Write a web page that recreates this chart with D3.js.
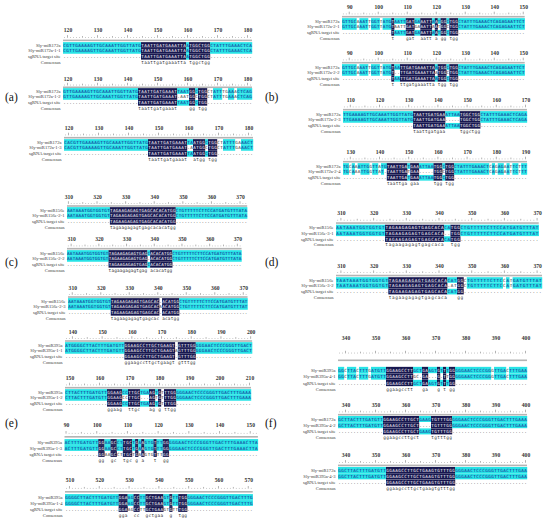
<!DOCTYPE html>
<html><head><meta charset="utf-8">
<script src="https://cdn.jsdelivr.net/npm/d3@7"></script>
<style>html,body{margin:0;padding:0;background:#fff;}svg{display:block}</style>
</head><body><svg id="c" width="550" height="521"></svg>
<script>
// ---------------- DATA ----------------
const panelLabels = ["(a)","(b)","(c)","(d)","(e)","(f)"];
const rowTitles = ["sgRNA target site","Consensus"];
const refNames = ["Sly-miR172a","Sly-miR172a","Sly-miR172a","Sly-miR172a","Sly-miR172a","Sly-miR172a","Sly-miR172a",
  "Sly-miR156e","Sly-miR156e","Sly-miR156e","Sly-miR156e","Sly-miR156e",
  "Sly-miR395a","Sly-miR395a","Sly-miR395a","Sly-miR395a","Sly-miR395a","Sly-miR172a","Sly-miR172a"];
const mutNames = ["Sly-miR172a-1-1","Sly-miR172a-1-2","Sly-miR172a-1-3","Sly-miR172a-2-1","Sly-miR172a-2-2","Sly-miR172a-2-3","Sly-miR172a-2-4",
  "Sly-miR156e-2-1","Sly-miR156e-2-2","Sly-miR156e-2-3","Sly-miR156e-3-1","Sly-miR156e-3-2",
  "Sly-miR395a-1-1","Sly-miR395a-1-2","Sly-miR395a-1-3","Sly-miR395a-1-4","Sly-miR395a-4-1","Sly-miR395a-4-2","Sly-miR395a-4-3"];
const blockGene = [0,0,0,0,0,0,0,1,1,1,1,1,2,2,2,2,2,2,2];
const blockStarts = [119,119,119,88,88,108,128,310,309,309,309,309,138,149,90,509,338,338,338];
const blockLens = [63,63,63,63,63,63,63,63,63,63,62,63,63,62,63,63,63,63,63];
const blockTicks = [
  [120,130,140,150,160,170,180],[120,130,140,150,160,170,180],[120,130,140,150,160,170,180],
  [90,100,110,120,130,140,150],[90,100,110,120,130,140,150],[110,120,130,140,150,160,170],[130,140,150,160,170,180,190],
  [310,320,330,340,350,360,370],[310,320,330,340,350,360,370],[310,320,330,340,350,360,370],
  [310,320,330,340,350,360,370],[310,320,330,340,350,360,370],
  [140,150,160,170,180,190,200],[150,160,170,180,190,200,210],[90,100,110,120,130,140,150],[510,520,530,540,550,560,570],
  [340,350,360,370,380,390,400],[340,350,360,370,380,390,400],[340,350,360,370,380,390,400]
];
// colour runs: c = cyan, n = navy, w = unshaded letter, g = gap ".", d = dot (outside site)
const refMasks = [
  "c26 n15 c1 n7 c14",
  "c25 n13 c4 n2 c1 n3 w2 c3 w2 c2 w1 c5",
  "c28 n13 c2 n4 c1 n3 w2 c4 w2 c4",
  "c5 w1 c3 w1 c3 w1 c3 n1 c4 n3 c2 n4 c1 n1 c1 n2 c1 n3 c23",
  "c5 w1 c3 w1 c3 w1 c3 n1 c2 n12 c1 n3 c1 n3 c23",
  "c24 n11 c5 n7 c16",
  "c2 w1 c1 w1 c4 w1 c2 w1 c2 n7 c1 n3 c5 n3 c1 n3 c12 w1 c1 w1 c2 w1 c1 w1 c2 w1 c2",
  "c15 n23 c25",
  "c15 n14 c1 n8 c25",
  "c15 n17 g1 n6 c24",
  "c15 n18 c2 n3 c24",
  "c16 n18 c3 n2 w1 c11 w1 c1 w1 c9",
  "c20 n17 g1 n6 c19",
  "c14 n5 c2 n4 c3 n2 c1 n1 w1 n4 c25",
  "c11 n2 c2 n2 c2 n3 c1 n1 c1 n1 c3 n1 c2 n2 c29",
  "c18 n3 c2 n2 c2 n6 c2 n1 c2 n3 c22",
  "c2 w1 c3 w1 c3 w1 c5 n9 c3 n2 c3 n1 c1 n1 c1 n2 c12 w1 c4 w1 c6",
  "c15 n12 c4 n7 c25",
  "c16 n23 c24"
];
const mutMasks = [
  "c26 n15 c1 n7 c14",
  "c25 n13 g1 w3 n2 w1 n3 w2 c3 w2 c2 w1 c5",
  "c28 n13 g1 w1 n4 w1 n3 w2 c4 w2 c4",
  "c5 w1 c3 w1 c3 w1 c3 n1 w4 n3 w2 n4 w1 n1 w1 n2 w1 n3 c23",
  "c5 w1 c3 w1 c3 w1 c3 n1 g2 n12 w1 n3 w1 n3 c23",
  "c24 n11 g5 n7 c16",
  "c2 w1 c1 w2 c3 w1 c2 w1 c1 g1 n7 w1 n3 g5 n3 w1 n3 c12 w1 c1 w1 c2 w1 c1 w1 c2 w1 c2",
  "c15 n23 c25",
  "c15 n14 g1 n8 c25",
  "c15 n17 w1 n6 c24",
  "c15 n18 g2 n3 c24",
  "c16 n18 g1 w2 n2 w1 c11 w1 c1 w1 c9",
  "c20 n17 w1 n6 c19",
  "c14 n5 w2 n4 g3 n2 w1 n1 w1 n4 c25",
  "c11 n2 c2 n2 c2 n3 c1 n1 c1 n1 c3 n1 c2 n2 c29",
  "c18 n3 c2 n2 c2 n6 c2 n1 c2 n3 c22",
  "c2 w1 c3 w1 c3 w1 c5 n9 w2 g1 n2 g3 n1 g1 n1 w1 n2 c12 w1 c4 w1 c6",
  "c15 n12 g4 n7 c25",
  "c16 n23 c24"
];
const sgMasks = [
  "d26 n15 c1 n7 d14",
  "d25 n13 c4 n2 c1 n3 d15",
  "d28 n13 c2 n4 c1 n3 d12",
  "d17 n1 c4 n3 c2 n4 c1 n1 c1 n2 c1 n3 d23",
  "d17 n1 c2 n12 c1 n3 c1 n3 d23",
  "d24 n11 c5 n7 d16",
  "d15 n7 c1 n3 c5 n3 c1 n3 d25",
  "d15 n23 d25",
  "d15 n14 c1 n8 d25",
  "d15 n17 g1 n6 d24",
  "d15 n18 c2 n3 d24",
  "d16 n18 c3 n2 d24",
  "d20 n17 g1 n6 d19",
  "d14 n5 c2 n4 c3 n2 c1 n1 w1 n4 d25",
  "d11 n2 w2 n2 w2 n3 w1 n1 w1 n1 w3 n1 w2 n2 d29",
  "d18 n3 w2 n2 w2 n6 w2 n1 w2 n3 d22",
  "d16 n9 c3 n2 c3 n1 c1 n1 c1 n2 d24",
  "d15 n12 c4 n7 d25",
  "d16 n23 d24"
];
const geneLeft = ["AGCTTGGACGCACGTTGAAAAGTTGCAAATTGGTTATG","GTTGTAATAAATGGTGGTGT","AGTTCAAGTATATGGGGCTTACTTTGATGTT"];
const geneRight = ["CTATTTGAAACTCAGAGAATTCTTTGATCA","CTGTTTTTCTTCCATGATGTTTATATATC","GGGAACTCCCGGGTTGACTTTGAAACTTAGC"];
const siteSeqs = ["TAATTGATGAAATTAATGGCTGG","TAGAAGAGAGTGAGCACACATGG","GGAAGCCTTGCTGAAGTGTTTGG"];

// ---------------- LAYOUT (positions/styles only) ----------------
const layout = [ // [bandX0, colW, tickY, row1Y, rowGap]
  [63,3.0,30,45,5.9],[63,3.0,79,91,5.9],[64,3.0,128,142,5.9],
  [342,2.9,7,21,5.9],[342,2.9,53,67,5.9],[343,2.92,100,114,5.9],[343,2.92,152,166,5.9],
  [67,2.86,197,210,5.9],[67,2.77,239,253,5.9],[68,2.85,288,301,5.9],
  [336,3.27,213,227.5,5.8],[336,3.27,265.5,280,5.8],
  [65,2.97,332,345,5.9],[65,3.0,378,392,5.9],[64.5,3.07,425,442,6.0],[65,2.98,480,497,6.0],
  [338,3.0,338,370,6.5],[338,3.0,405,419,6.2],[338,3.0,455,470,6.3]
];
const panelPos = [[5,100.5],[265,100.5],[5,266],[265,266],[5,427],[265,427]];
const CYAN = "#27e3e6", NAVY = "#17174f";

// ---------------- DRAW ----------------
const svg = d3.select("#c");
function expand(rle){ return rle.trim().split(/\s+/).flatMap(t => Array(+t.slice(1)).fill(t[0])); }
function runs(arr){ const r=[]; arr.forEach((m,i)=>{ if(r.length && r[r.length-1].m===m) r[r.length-1].n++; else r.push({m,i,n:1}); }); return r; }

svg.selectAll("text.panel").data(panelLabels).join("text")
  .attr("class","panel").attr("x",(d,i)=>panelPos[i][0]).attr("y",(d,i)=>panelPos[i][1])
  .attr("font-family","Liberation Serif, serif").attr("font-size",11.5).attr("fill","#111").text(d=>d);

refNames.forEach((refName, b) => {
  const [x0, cw, tickY, row1Y, gap] = layout[b];
  const start = blockStarts[b], len = blockLens[b], gi = blockGene[b];
  const x = d3.scaleLinear().domain([start - 0.5, start + len - 0.5]).range([x0, x0 + len * cw]);
  const ref = expand(refMasks[b]), mut = expand(mutMasks[b]), sg = expand(sgMasks[b]);
  // letters
  const nLeft = sg.findIndex(m => m !== "d");
  let nSite = 0; for (let i = nLeft; i < len && sg[i] !== "d"; i++) nSite++;
  const nRight = len - nLeft - nSite;
  const left = geneLeft[gi].slice(-nLeft), right = geneRight[gi].slice(0, nRight);
  const site = siteSeqs[gi];
  const refL = [], sgL = [];
  let k = 0;
  for (let i = 0; i < len; i++) {
    if (i < nLeft) { refL.push(left[i - (nLeft - left.length)] || "A"); sgL.push("."); }
    else if (i < nLeft + nSite) {
      if (sg[i] === "g") { refL.push("."); sgL.push("."); }
      else { const ch = site[k++] || "T"; refL.push(ch); sgL.push(ch); }
    } else { refL.push(right[i - nLeft - nSite] || "G"); sgL.push("."); }
  }
  const mutL = refL.map((ch, i) => mut[i] === "g" ? "." : (ch === "." ? "A" : ch));
  const consL = refL.map((ch, i) => (ref[i] === "n" && mut[i] === "n" && sg[i] === "n") ? ch.toLowerCase() : "");

  const g = svg.append("g");
  // tick numbers via axis
  const ax = g.append("g").attr("transform", `translate(0,${tickY + 2})`)
    .call(d3.axisTop(x).tickValues(blockTicks[b]).tickSize(0).tickPadding(0).tickFormat(d3.format("d")));
  ax.select(".domain").remove();
  ax.selectAll("text").attr("font-family","Liberation Serif, serif").attr("font-weight","bold")
    .attr("font-size",5.6).attr("fill","#333");
  // ruler
  const span = row1Y - tickY;
  const rulerY = tickY + 0.45 * span + 1;
  const positions = d3.range(start, start + len);
  g.append("g").selectAll("line").data(positions).join("line")
    .attr("x1", p => x(p)).attr("x2", p => x(p))
    .attr("y1", rulerY).attr("y2", p => rulerY - (p % 10 === 0 ? 2.6 : p % 5 === 0 ? 1.7 : 0.7))
    .attr("stroke", "#666").attr("stroke-width", 0.5);
  const lineY = row1Y - 0.3 * span;
  g.append("rect").attr("x", x0).attr("y", lineY - 0.9).attr("width", len * cw).attr("height", 1.6).attr("fill", "#b4b4b4");

  const rows = [
    {name: refName, m: ref, L: refL},
    {name: mutNames[b], m: mut, L: mutL},
    {name: rowTitles[0], m: sg, L: sgL},
    {name: rowTitles[1], m: null, L: consL}
  ];
  const barH = gap - 0.2;
  rows.forEach((row, r) => {
    const y = row1Y + r * gap;
    g.append("text").attr("x", x0 - 2.5).attr("y", y + 1.5).attr("text-anchor", "end")
      .attr("font-family", "Liberation Serif, serif").attr("font-size", 4.6).attr("fill", "#3a3a3a").text(row.name);
    if (row.m) {
      g.append("g").selectAll("rect").data(runs(row.m).filter(d => d.m === "c" || d.m === "n")).join("rect")
        .attr("x", d => x(start + d.i) - cw / 2).attr("width", d => d.n * cw + 0.2)
        .attr("y", y - barH / 2).attr("height", barH)
        .attr("fill", d => d.m === "n" ? NAVY : CYAN);
    }
    g.append("g").selectAll("text").data(row.L.map((ch, i) => ({ch, i})).filter(d => d.ch)).join("text")
      .attr("x", d => x(start + d.i)).attr("y", y + 1.5).attr("text-anchor", "middle")
      .attr("font-family", "DejaVu Sans Mono, monospace").attr("font-size", row.m ? 4.3 : 4.4)
      .attr("fill", d => {
        if (!row.m) return "#333";
        const m = row.m[d.i];
        return m === "n" ? "#ffffff" : m === "c" ? "#1b1b8f" : "#333";
      })
      .text(d => d.ch);
  });
});
</script></body></html>
